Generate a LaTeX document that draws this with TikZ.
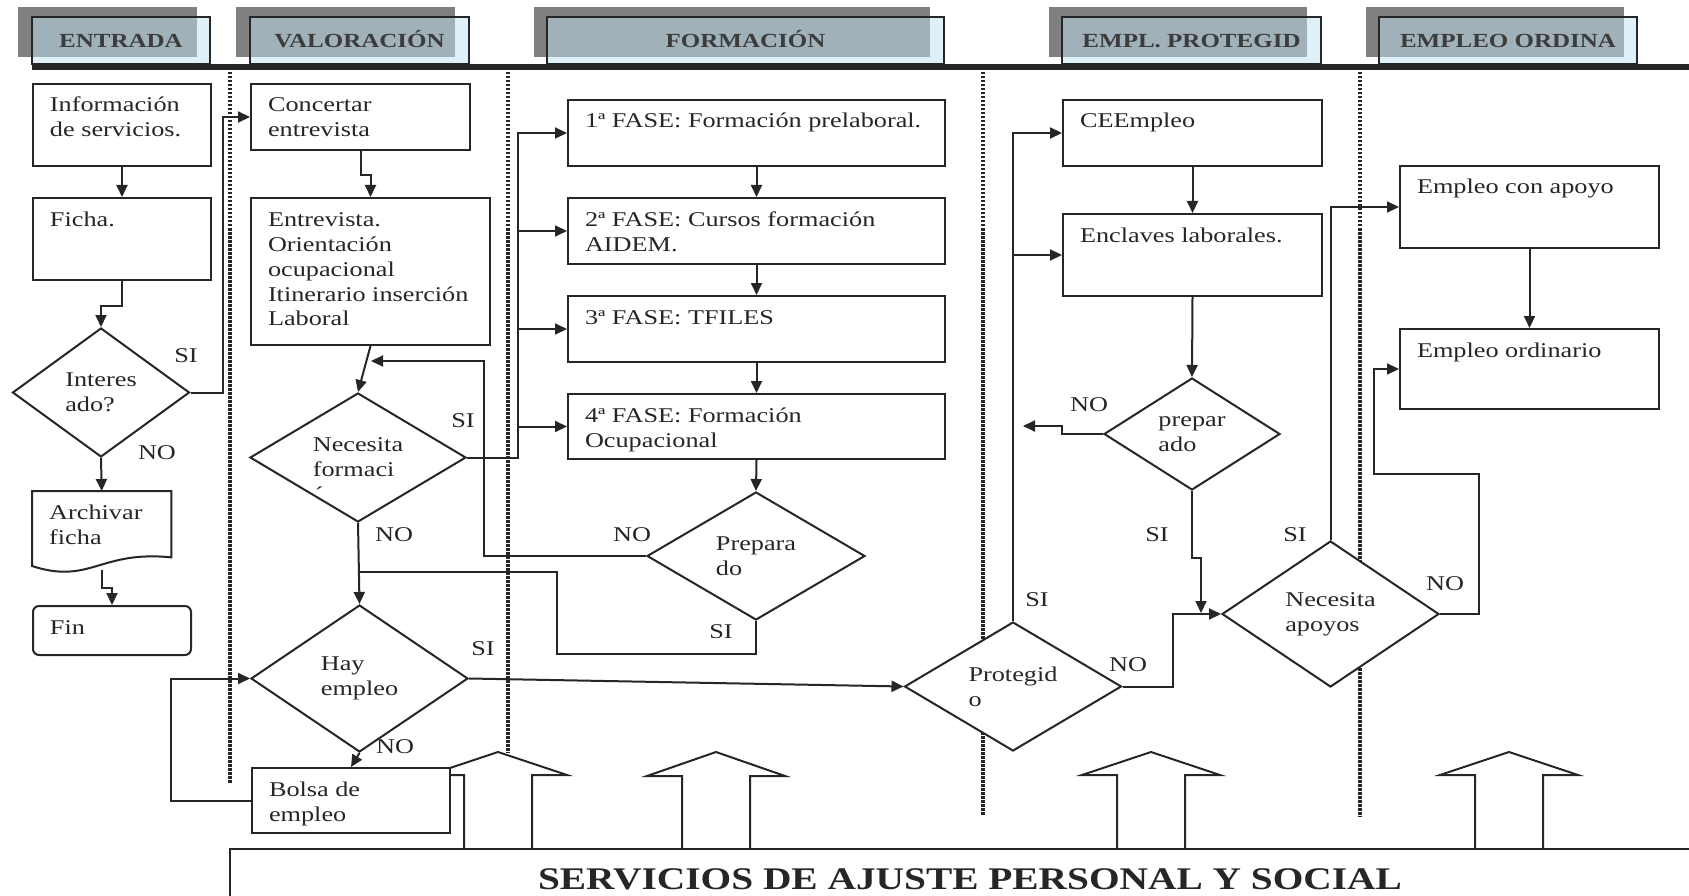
\documentclass[tikz,border=0pt]{standalone}
\usepackage{fontspec}
\setmainfont{Liberation Serif}[FakeStretch=1.25]
\usepackage{tikz}
\usetikzlibrary{shapes.geometric,arrows.meta}
\definecolor{tinta}{HTML}{262626}
\definecolor{sombra}{HTML}{808080}
\definecolor{celeste}{HTML}{C2E2F4}
\definecolor{titulogris}{HTML}{3C3C3C}
\newcommand{\letra}{\fontsize{21pt}{25pt}\selectfont}
\newcommand{\cajatxt}[3]{\parbox[c][#2][t]{#1}{\raggedright\leftskip=17pt\rule{0pt}{28pt}#3}}

\begin{document}
\begin{tikzpicture}[x=1pt,y=-1pt,
  every node/.style={font=\letra, text=tinta},
  caja/.style={draw=tinta, line width=2pt, fill=white, inner sep=0pt, anchor=north west},
  rombo/.style={diamond, draw=tinta, line width=2pt, fill=white, inner sep=0pt, shape aspect=1.6, align=left},
  etiqueta/.style={inner sep=0pt},
  fondo/.style={fill=sombra, minimum height=50pt, inner sep=0pt},
  titulo/.style={draw=tinta, line width=1.5pt, fill=celeste, fill opacity=0.5, text opacity=1, minimum height=47pt,
    inner sep=0pt, text height=14pt, text depth=0pt, font=\bfseries\fontsize{20pt}{24pt}\selectfont, text=titulogris},
  linea/.style={draw=tinta, line width=2pt},
  flecha/.style={draw=tinta, line width=2pt, -{Triangle[length=12pt,width=11pt]}},
  separador/.style={draw=tinta, line width=3.5pt, dash pattern=on 2.5pt off 1.5pt},
  bloque/.style={draw=tinta, line width=2pt}]
\fill[white] (0,0) rectangle (1689,896);
\useasboundingbox (0,0) rectangle (1689,896);

\node[fondo, minimum width=179pt] (fEntrada) at (107.5,32) {};
\node[titulo, minimum width=178pt] (tEntrada) at (121,40.5) {ENTRADA};
\node[fondo, minimum width=219pt] (fValoracion) at (345.5,32) {};
\node[titulo, minimum width=219pt] (tValoracion) at (359.5,40.5) {VALORACIÓN};
\node[fondo, minimum width=396pt] (fFormacion) at (732,32) {};
\node[titulo, minimum width=397pt] (tFormacion) at (745.5,40.5) {FORMACIÓN};
\node[fondo, minimum width=258pt] (fProtegido) at (1178,32) {};
\node[titulo, minimum width=259pt] (tProtegido) at (1191.5,40.5) {EMPL. PROTEGID};
\node[fondo, minimum width=258pt] (fOrdinario) at (1495,32) {};
\node[titulo, minimum width=258pt] (tOrdinario) at (1508,40.5) {EMPLEO ORDINA};
\draw[tinta, line width=6pt] (32,67) -- (1689,67);

\draw[separador] (230,72) -- (230,783);
\draw[separador] (508,72) -- (508,753);
\draw[separador] (983,72) -- (983,815);
\draw[separador] (1360,72) -- (1360,817);

\draw[bloque] (464,849) -- (464,775) -- (429,775) -- (498,752) -- (567,775) -- (532,775) -- (532,849);
\draw[bloque] (682,849) -- (682,776) -- (647,776) -- (716,752) -- (785,776) -- (750,776) -- (750,849);
\draw[bloque] (1117,849) -- (1117,775) -- (1082,775) -- (1151,752) -- (1220,775) -- (1185,775) -- (1185,849);
\draw[bloque] (1475,849) -- (1475,775) -- (1440,775) -- (1509,752) -- (1578,775) -- (1543,775) -- (1543,849);
\draw[bloque] (1689,849) -- (230,849) -- (230,896);
\node[anchor=base, font=\bfseries\fontsize{31.5pt}{36pt}\selectfont, text=black!85] (servicios) at (970,889)
  {SERVICIOS DE AJUSTE PERSONAL Y SOCIAL};

\node[caja] (info) at (32,83) {\cajatxt{178pt}{82pt}{Información\\de servicios.}};
\node[caja] (ficha) at (32,197) {\cajatxt{178pt}{82pt}{Ficha.}};
\node[rombo, minimum width=177pt, minimum height=129pt] (interes) at (101,392.5) {Interes\\ado?};
\node[anchor=north west, inner sep=0pt] (archivar) at (32,491) {\cajatxt{139pt}{66pt}{Archivar\\ficha}};
\draw[linea] (archivar.north west) -- (archivar.north east) -- (archivar.south east)
  .. controls (100,550) and (90,585) .. (32,566) -- cycle;
\node[caja, rounded corners=6pt] (fin) at (32,605) {\cajatxt{158pt}{49pt}{Fin}};

\node[caja] (concertar) at (250,83) {\cajatxt{219pt}{66pt}{Concertar\\entrevista}};
\node[caja] (entrevista) at (250,197) {\cajatxt{239pt}{147pt}{Entrevista.\\Orientación\\ocupacional\\Itinerario inserción\\Laboral}};
\node[rombo, minimum width=216pt, minimum height=129pt] (necesita) at (358,457.5)
  {Necesita\\\rlap{\hspace{2pt}\smash{\raisebox{-25pt}{´}}}formaci};
\node[rombo, minimum width=217pt, minimum height=147pt] (hay) at (359.5,678.5) {Hay\\empleo};
\node[caja] (bolsa) at (251,767) {\cajatxt{198pt}{65pt}{Bolsa de\\empleo}};

\node[caja] (fase1) at (567,99) {\cajatxt{377pt}{66pt}{1ª FASE: Formación prelaboral.}};
\node[caja] (fase2) at (567,197) {\cajatxt{377pt}{66pt}{2ª FASE: Cursos formación\\AIDEM.}};
\node[caja] (fase3) at (567,295) {\cajatxt{377pt}{66pt}{3ª FASE: TFILES}};
\node[caja] (fase4) at (567,393) {\cajatxt{377pt}{65pt}{4ª FASE: Formación\\Ocupacional}};
\node[rombo, minimum width=218pt, minimum height=128pt] (prepara) at (756,556) {Prepara\\do};

\node[caja] (cee) at (1062,99) {\cajatxt{259pt}{66pt}{CEEmpleo}};
\node[caja] (enclaves) at (1062,213) {\cajatxt{259pt}{82pt}{Enclaves laborales.}};
\node[rombo, minimum width=176pt, minimum height=112pt] (prepar) at (1192,434) {prepar\\ado};
\node[rombo, minimum width=217pt, minimum height=129pt] (protegido) at (1013,686.5) {Protegid\\o};
\node[rombo, minimum width=217pt, minimum height=146pt] (apoyos) at (1330.5,614) {Necesita\\apoyos};
\node[caja] (conapoyo) at (1399,165) {\cajatxt{259pt}{82pt}{Empleo con apoyo}};
\node[caja] (ordinario) at (1399,328) {\cajatxt{259pt}{80pt}{Empleo ordinario}};

\coordinate (archivarpie) at (102,570);
\coordinate (busF) at (518,457.5);
\coordinate (retorno) at (371,361);
\coordinate (union) at (359.5,572);
\coordinate (salidaNo) at (1023,426);
\coordinate (llegada) at (1201,613);

\draw[flecha] (info.south) -- (ficha.north);
\draw[flecha] (ficha.south) -- ++(0,25) -| (interes.north);
\draw[flecha] (interes.east) -- ++(32,0) |- (concertar.west);
\draw[flecha] (interes.south) -- (archivar.north);
\draw[flecha] (archivarpie) -- ++(0,18) -| (fin.north);
\draw[flecha] (concertar.south) -- ++(0,24) -| (entrevista.north);
\draw[flecha] (entrevista.south) -- (necesita.north);
\draw[flecha] (necesita.east) -- (busF) |- (fase1.west);
\draw[flecha] (busF |- fase2.west) -- (fase2.west);
\draw[flecha] (busF |- fase3.west) -- (fase3.west);
\draw[flecha] (busF |- fase4.west) -- (fase4.west);
\draw[flecha] (fase1.south) -- (fase2.north);
\draw[flecha] (fase2.south) -- (fase3.north);
\draw[flecha] (fase3.south) -- (fase4.north);
\draw[flecha] (fase4.south) -- (prepara.north);
\draw[flecha] (prepara.west) -- ++(-162,0) |- (retorno);
\draw[linea] (prepara.south) -- ++(0,33) -- ++(-199,0) |- (union);
\draw[flecha] (necesita.south) -- (hay.north);
\draw[flecha] (hay.east) -- (protegido.west);
\draw[flecha] (hay.south) -- (bolsa.north);
\draw[flecha] (bolsa.west) -- ++(-80,0) |- (hay.west);
\draw[flecha] (protegido.north) |- (cee.west);
\draw[flecha] (protegido.north |- enclaves.west) -- (enclaves.west);
\draw[flecha] (cee.south) -- (enclaves.north);
\draw[flecha] (enclaves.south) -- (prepar.north);
\draw[flecha] (prepar.west) -- ++(-41,0) |- (salidaNo);
\draw[flecha] (prepar.south) -- ++(0,67) -| (llegada);
\draw[flecha] (protegido.east) -- ++(50,0) |- (apoyos.west);
\draw[flecha] (apoyos.north) |- (conapoyo.west);
\draw[flecha] (apoyos.east) -- ++(39,0) -- ++(0,-140) -- ++(-105,0) |- (ordinario.west);
\draw[flecha] (conapoyo.south) -- (ordinario.north);

\node[etiqueta] (siInteres) at (186,356) {SI};
\node[etiqueta] (noInteres) at (157,453) {NO};
\node[etiqueta] (siNecesita) at (463,421) {SI};
\node[etiqueta] (noNecesita) at (394,535) {NO};
\node[etiqueta] (siHay) at (483,649) {SI};
\node[etiqueta] (noHay) at (395,747) {NO};
\node[etiqueta] (noPrepara) at (632,535) {NO};
\node[etiqueta] (siPrepara) at (721,632) {SI};
\node[etiqueta] (noPrepar) at (1089,405) {NO};
\node[etiqueta] (siPrepar) at (1157,535) {SI};
\node[etiqueta] (siProtegido) at (1037,600) {SI};
\node[etiqueta] (noProtegido) at (1128,665) {NO};
\node[etiqueta] (siApoyos) at (1295,535) {SI};
\node[etiqueta] (noApoyos) at (1445,584) {NO};
\end{tikzpicture}
\end{document}
